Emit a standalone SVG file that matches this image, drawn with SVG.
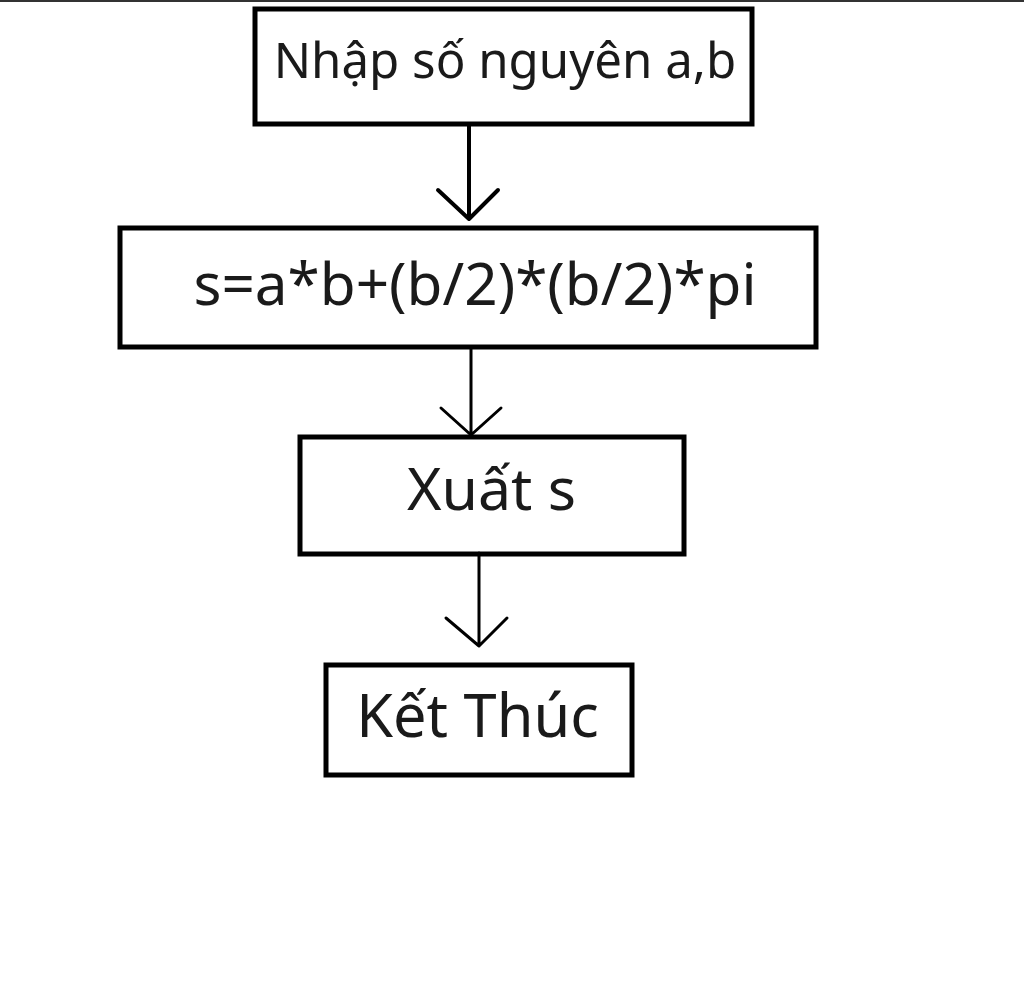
<svg xmlns="http://www.w3.org/2000/svg" width="1024" height="990" viewBox="0 0 1024 990">
<style>
.box{fill:#fff;stroke:#000;stroke-width:5}
.lbl{font-family:"Noto Sans","Open Sans","DejaVu Sans",sans-serif;fill:#1a1a1a;text-anchor:middle}
.con{fill:none;stroke:#000;stroke-linecap:round;stroke-linejoin:round}
</style>
<rect x="0" y="0" width="1024" height="990" fill="#fff"/>
<line x1="0" y1="1" x2="1024" y2="1" stroke="#333" stroke-width="2"/>
<g id="n1"><rect class="box" x="255" y="9" width="497" height="115"/><text class="lbl" x="505" y="78" font-size="49.2">Nhập số nguyên a,b</text></g>
<g id="n2"><rect class="box" x="120" y="228" width="696" height="119"/><text class="lbl" x="475" y="305" font-size="58.4">s=a*b+(b/2)*(b/2)*pi</text></g>
<g id="n3"><rect class="box" x="300" y="437" width="384" height="117"/><text class="lbl" x="491.5" y="510" font-size="59">Xuất s</text></g>
<g id="n4"><rect class="box" x="326" y="665" width="306" height="110"/><text class="lbl" x="477.5" y="737" font-size="59.5">Kết Thúc</text></g>
<g id="connectors">
<path class="con" stroke-width="4" d="M469 126V219M438 190L469 219L498 190"/>
<path class="con" stroke-width="3" d="M471 349V435M441 408L471 435L501 408"/>
<path class="con" stroke-width="3" d="M479 553V646M446 618L479 646L507 618"/>
</g>
</svg>
